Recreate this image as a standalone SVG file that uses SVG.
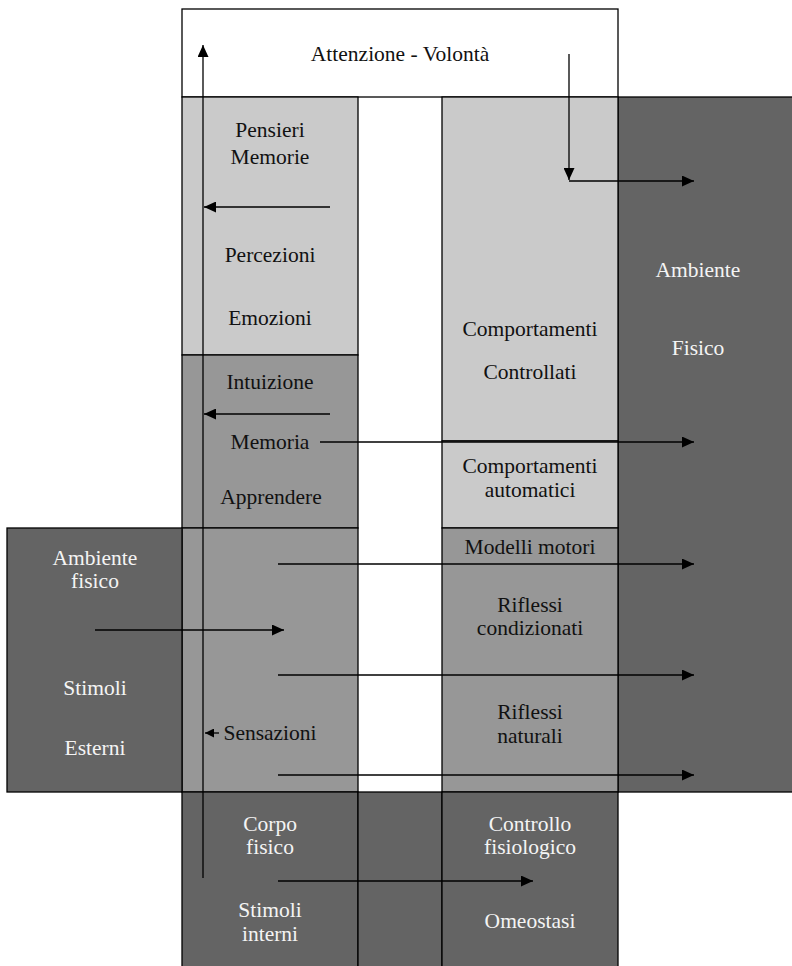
<svg xmlns="http://www.w3.org/2000/svg" width="792" height="966" viewBox="0 0 792 966">
<defs>
<style>
.box{stroke:#000;stroke-width:1.3}
.white{fill:#fff}
.light{fill:#cacaca}
.mid{fill:#979797}
.dark{fill:#646464}
.t{font-family:'Liberation Serif','DejaVu Serif',serif;font-size:21.5px;text-anchor:middle}
.tb{fill:#111}
.tw{fill:#f4f4f4}
.conn{stroke:#000;stroke-width:1.3;fill:none}
</style>
<marker id="ah" markerUnits="userSpaceOnUse" markerWidth="12" markerHeight="11" refX="12" refY="5.5" orient="auto">
<path d="M0,0 L12,5.5 L0,11 z" fill="#000"/>
</marker>
<marker id="ahs" markerUnits="userSpaceOnUse" markerWidth="9" markerHeight="9" refX="9" refY="4.5" orient="auto">
<path d="M0,0 L9,4.5 L0,9 z" fill="#000"/>
</marker>
</defs>
<rect width="792" height="966" fill="#fff"/>

<g id="ambiente-fisico-destra">
<rect class="box dark" x="618" y="97" width="176" height="695"/>
<text class="t tw" x="698" y="277">Ambiente</text>
<text class="t tw" x="698" y="355">Fisico</text>
</g>

<g id="attenzione">
<rect class="box white" x="182" y="9" width="436" height="88"/>
<text class="t tb" x="400" y="61">Attenzione - Volontà</text>
</g>

<g id="pensieri">
<rect class="box light" x="182" y="97" width="176" height="258"/>
<text class="t tb" x="270" y="137">Pensieri</text>
<text class="t tb" x="270" y="164">Memorie</text>
<text class="t tb" x="270" y="262">Percezioni</text>
<text class="t tb" x="270" y="325">Emozioni</text>
</g>

<g id="intuizione">
<rect class="box mid" x="182" y="355" width="176" height="173"/>
<text class="t tb" x="270" y="389">Intuizione</text>
<text class="t tb" x="270" y="449">Memoria</text>
<text class="t tb" x="271" y="504">Apprendere</text>
</g>

<g id="sensazioni">
<rect class="box mid" x="182" y="528" width="176" height="264"/>
<text class="t tb" x="270" y="740">Sensazioni</text>
</g>

<g id="ambiente-fisico-sinistra">
<rect class="box dark" x="7" y="528" width="175" height="264"/>
<text class="t tw" x="95" y="565">Ambiente</text>
<text class="t tw" x="95" y="588">fisico</text>
<text class="t tw" x="95" y="695">Stimoli</text>
<text class="t tw" x="95" y="755">Esterni</text>
</g>

<g id="comportamenti-controllati">
<rect class="box light" x="442" y="97" width="176" height="344"/>
<text class="t tb" x="530" y="336">Comportamenti</text>
<text class="t tb" x="530" y="379">Controllati</text>
</g>

<g id="comportamenti-automatici">
<rect class="box light" x="442" y="441" width="176" height="87"/>
<text class="t tb" x="530" y="473">Comportamenti</text>
<text class="t tb" x="530" y="497">automatici</text>
</g>

<g id="riflessi">
<rect class="box mid" x="442" y="528" width="176" height="264"/>
<text class="t tb" x="530" y="554">Modelli motori</text>
<text class="t tb" x="530" y="612">Riflessi</text>
<text class="t tb" x="530" y="635">condizionati</text>
<text class="t tb" x="530" y="719">Riflessi</text>
<text class="t tb" x="530" y="743">naturali</text>
</g>

<g id="corpo-fisico">
<rect class="box dark" x="182" y="792" width="176" height="176"/>
<text class="t tw" x="270" y="831">Corpo</text>
<text class="t tw" x="270" y="854">fisico</text>
<text class="t tw" x="270" y="917">Stimoli</text>
<text class="t tw" x="270" y="941">interni</text>
</g>

<g id="centro-basso">
<rect class="box dark" x="358" y="792" width="84" height="176"/>
</g>

<g id="controllo-fisiologico">
<rect class="box dark" x="442" y="792" width="176" height="176"/>
<text class="t tw" x="530" y="831">Controllo</text>
<text class="t tw" x="530" y="854">fisiologico</text>
<text class="t tw" x="530" y="928">Omeostasi</text>
</g>

<g id="connettori">
<line class="conn" x1="203" y1="878" x2="203" y2="45" marker-end="url(#ah)"/>
<line class="conn" x1="569" y1="54" x2="569" y2="180" marker-end="url(#ah)"/>
<line class="conn" x1="569" y1="181" x2="694" y2="181" marker-end="url(#ah)"/>
<line class="conn" x1="330" y1="207" x2="204" y2="207" marker-end="url(#ah)"/>
<line class="conn" x1="330" y1="414" x2="204" y2="414" marker-end="url(#ah)"/>
<line class="conn" x1="320" y1="442" x2="694" y2="442" marker-end="url(#ah)"/>
<line class="conn" x1="95" y1="630" x2="284" y2="630" marker-end="url(#ah)"/>
<line class="conn" x1="278" y1="564" x2="694" y2="564" marker-end="url(#ah)"/>
<line class="conn" x1="278" y1="675" x2="694" y2="675" marker-end="url(#ah)"/>
<line class="conn" x1="278" y1="775" x2="694" y2="775" marker-end="url(#ah)"/>
<line class="conn" x1="219" y1="733" x2="205" y2="733" marker-end="url(#ahs)"/>
<line class="conn" x1="278" y1="881" x2="533" y2="881" marker-end="url(#ah)"/>
</g>
</svg>
